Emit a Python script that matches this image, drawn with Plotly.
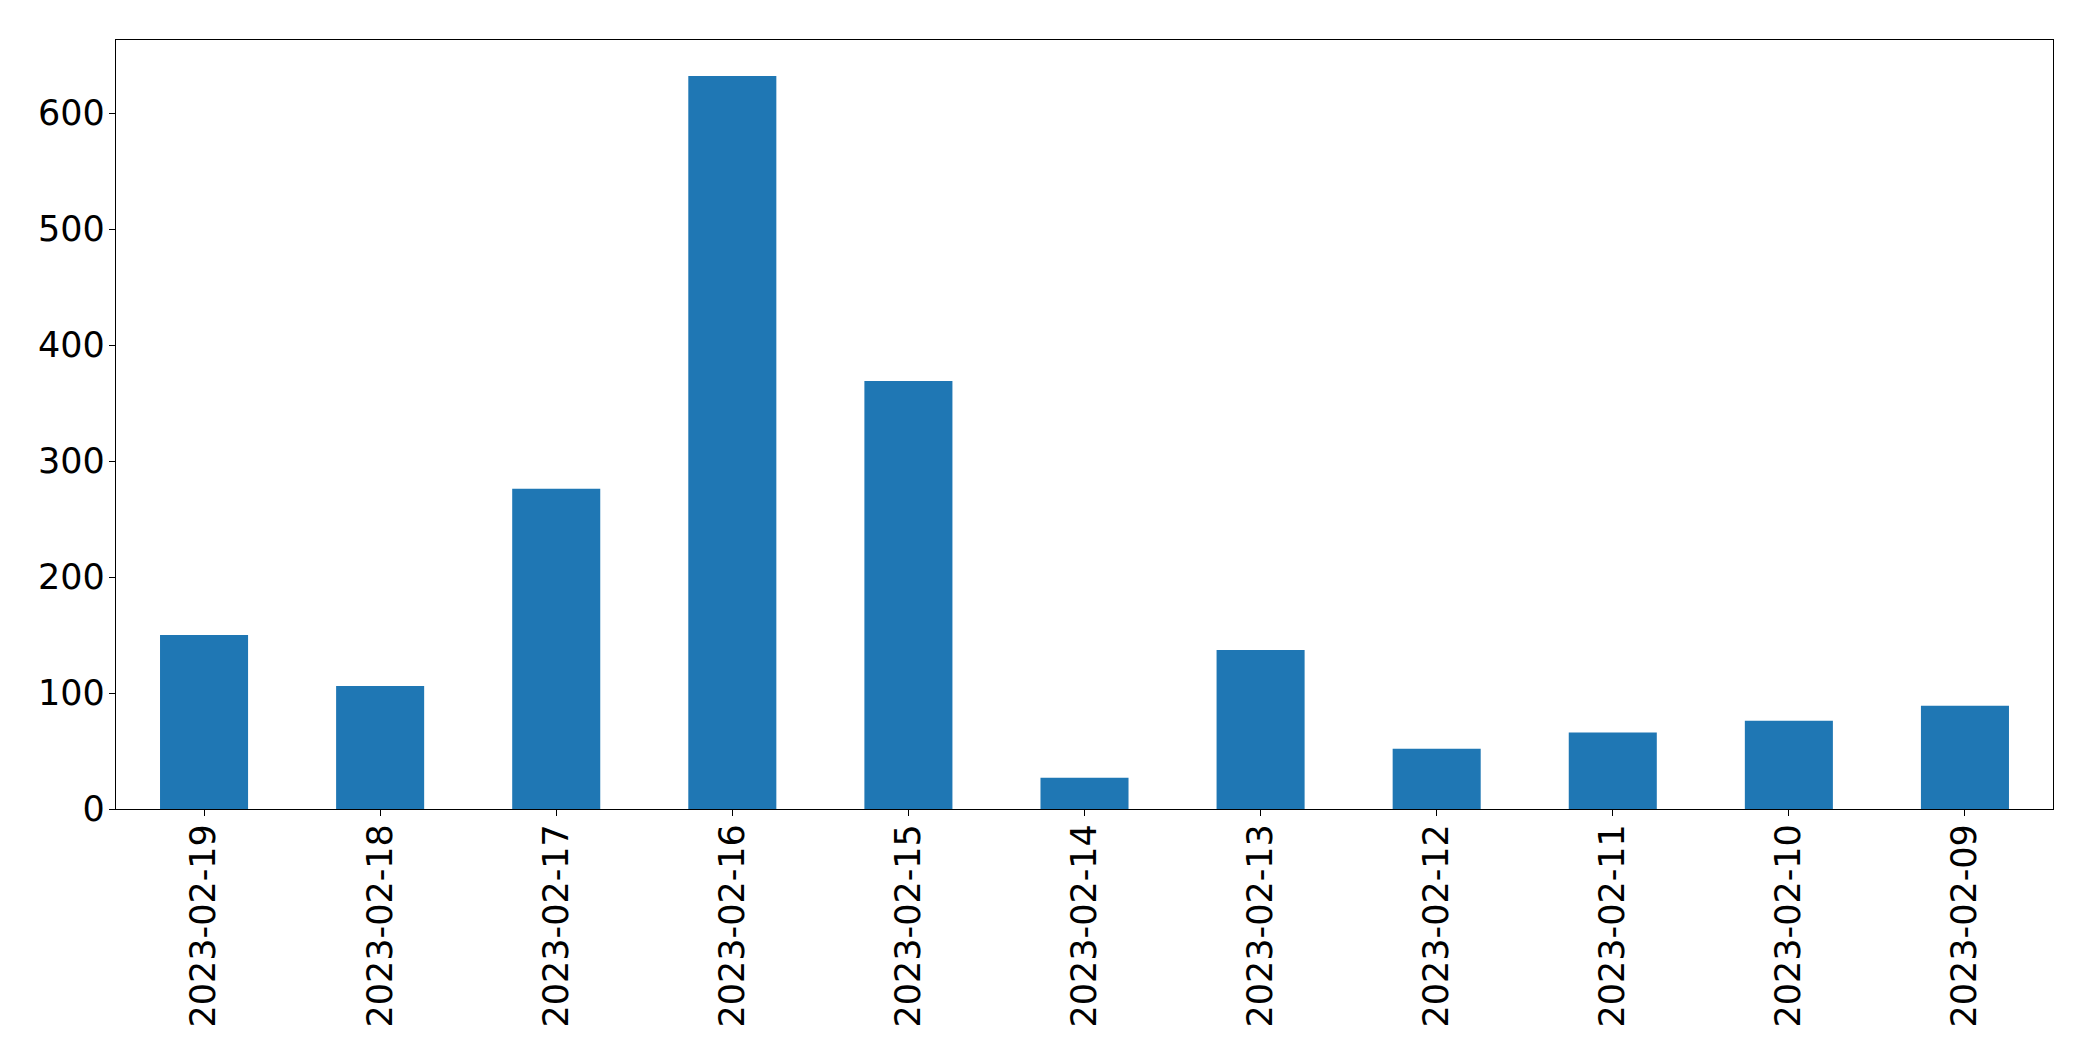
import plotly.graph_objects as go

dates = ["2023-02-19", "2023-02-18", "2023-02-17", "2023-02-16", "2023-02-15",
         "2023-02-14", "2023-02-13", "2023-02-12", "2023-02-11", "2023-02-10", "2023-02-09"]
counts = [150, 106, 276, 632, 369, 27, 137, 52, 66, 76, 89]
y_ticks = [0, 100, 200, 300, 400, 500, 600]

fig = go.Figure(go.Bar(x=dates, y=counts, marker=dict(color="#1f77b4", line=dict(width=0))))

axis_common = dict(showline=True, linecolor="black", linewidth=1.3, mirror=True,
                   ticks="outside", ticklen=6, tickwidth=1.3, tickcolor="black",
                   showgrid=False, zeroline=False,
                   tickfont=dict(family="DejaVu Sans", size=35, color="black"))

fig.update_layout(
    width=2077, height=1045,
    margin=dict(l=108, r=32, t=32, b=244),
    plot_bgcolor="white", paper_bgcolor="white",
    bargap=0.5, showlegend=False,
    xaxis=dict(type="category", range=[-0.5, 10.5], tickangle=-90,
               ticklabelstandoff=-6, **axis_common),
    yaxis=dict(range=[0, 663], tickvals=y_ticks, ticklabelstandoff=-3, **axis_common),
)

fig.write_html("out.html")
